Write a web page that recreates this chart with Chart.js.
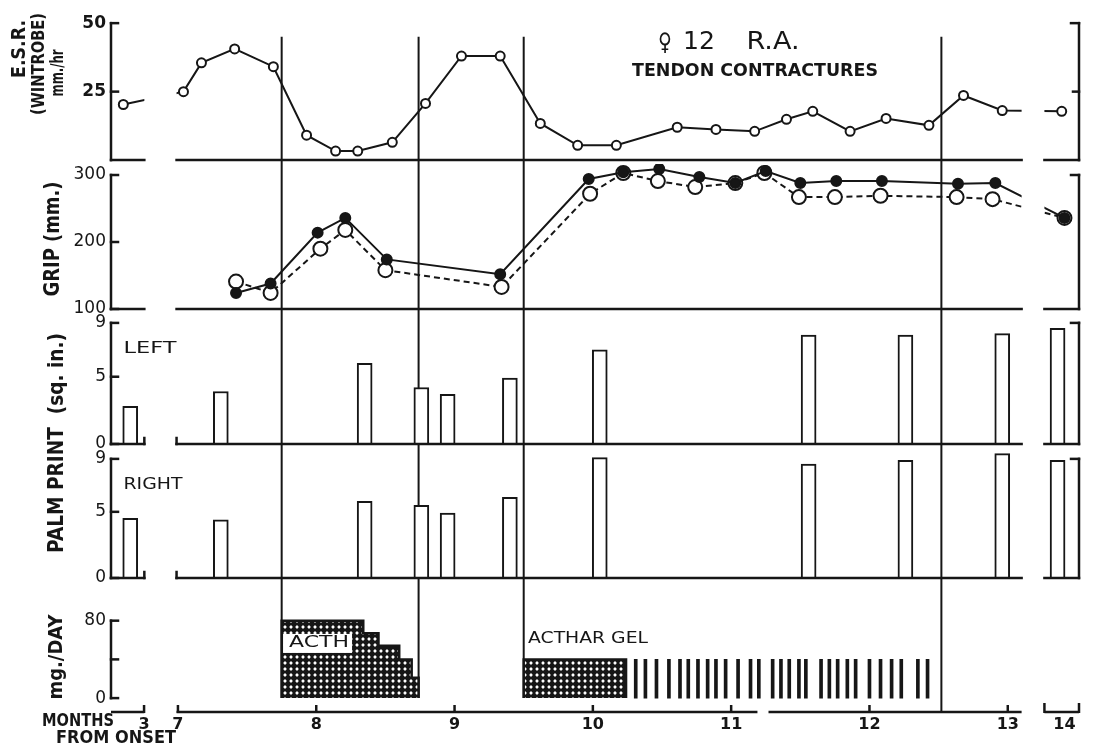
<!DOCTYPE html>
<html>
<head>
<meta charset="utf-8">
<title>Case 12 R.A. - ESR, grip, palm print and ACTH dosage</title>
<script src="https://cdn.jsdelivr.net/npm/chart.js@4.4.1/dist/chart.umd.min.js"></script>
<style>
  html, body { margin: 0; background: #fff; }
  canvas { display: block; }
</style>
</head>
<body>
<canvas id="chart" width="1093" height="748"></canvas>
<script>
// ---- values (months from onset) ----
const monthTicks = [3, 7, 8, 9, 10, 11, 12, 13, 14];

const esrMonths = [2.85, 7.04, 7.17, 7.41, 7.69, 7.93, 8.14, 8.30, 8.55, 8.79, 9.05, 9.33, 9.62,
  9.89, 10.17, 10.61, 10.89, 11.17, 11.40, 11.59, 11.86, 12.12, 12.43, 12.68, 12.96, 13.98];
const esrValues = [20.3, 25, 35.5, 40.6, 34.1, 9.1, 3.3, 3.3, 6.5, 20.7, 38, 38, 13.4,
  5.4, 5.4, 12, 11.2, 10.5, 14.9, 17.8, 10.5, 15.2, 12.7, 23.6, 18.1, 17.8];

const gripSolidMonths = [7.42, 7.67, 8.01, 8.21, 8.51, 9.33, 9.97, 10.22, 10.48, 10.77, 11.03,
  11.25, 11.50, 11.76, 12.09, 12.64, 12.91, 14.0];
const gripSolid = [124, 138, 214, 236, 174, 152, 294, 304, 309, 297, 288, 306, 288, 291, 291, 287, 288, 236];
const gripOpenMonths = [7.42, 7.67, 8.03, 8.21, 8.50, 9.34, 9.98, 10.22, 10.47, 10.74, 11.03,
  11.24, 11.49, 11.75, 12.08, 12.63, 12.89, 14.0];
const gripOpen = [141, 124, 190, 218, 158, 133, 272, 303, 291, 282, 288, 303, 267, 267, 269, 267, 264, 236];

const palmMonths = [2.9, 7.31, 8.35, 8.76, 8.95, 9.40, 10.05, 11.56, 12.26, 12.96, 13.95];
const palmLeft = [2.8, 3.9, 6.0, 4.2, 3.7, 4.9, 7.0, 8.1, 8.1, 8.2, 8.6];
const palmRight = [4.5, 4.4, 5.8, 5.5, 4.9, 6.1, 9.1, 8.6, 8.9, 9.4, 8.9];

const acthStart = [7.75, 8.34, 8.45, 8.60, 8.69];
const acthDose = [80, 67, 54, 40, 21];
const acthEnd = 8.74;
const gelStart = 9.5, gelEnd = 10.24, gelDose = 40;
const gelShots = [10.31, 10.38, 10.46, 10.55, 10.63, 10.69, 10.76, 10.83, 10.89, 10.96, 11.05,
  11.14, 11.20, 11.30, 11.36, 11.42, 11.49, 11.54, 11.65, 11.71, 11.77, 11.84, 11.90, 12.00,
  12.08, 12.16, 12.23, 12.35, 12.42];

const treatMonths = [7.75, 8.74, 9.5, 12.52];

// ---- broken month axis: month 3 and month 14 are pulled in next to the main span ----
const pos = m => m <= 5 ? m + 3.755 : (m >= 13.5 ? m - 0.59 : m);
const pts = (months, values) => months.map((m, i) => ({x: pos(m), y: values[i]}));
const breaks = [[6.757, 6.99], [13.10, 13.265]];
const pieces = xs => [[xs.min, breaks[0][0]], [breaks[0][1], breaks[1][0]], [breaks[1][1], xs.max]];
const axisGap = [11.19, 11.27]; // small gap in the printed month axis

const ink = '#161616';
Chart.defaults.font.family = '"DejaVu Sans", sans-serif';
Chart.defaults.color = ink;

function hatch() {
  const c = document.createElement('canvas');
  c.width = c.height = 6;
  const g = c.getContext('2d');
  g.fillStyle = ink;
  g.fillRect(0, 0, 6, 6);
  g.fillStyle = '#fff';
  g.beginPath();
  g.moveTo(3, 1.1); g.lineTo(4.9, 3); g.lineTo(3, 4.9); g.lineTo(1.1, 3);
  g.closePath();
  g.fill();
  return g.createPattern(c, 'repeat');
}

const acthData = [{x: pos(acthStart[0]), y: 0}]
  .concat(pts(acthStart, acthDose))
  .concat([{x: pos(acthEnd), y: acthDose[acthDose.length - 1]}, {x: pos(acthEnd), y: 0}]);
const gelData = [{x: pos(gelStart), y: 0}, {x: pos(gelStart), y: gelDose},
  {x: pos(gelEnd), y: gelDose}, {x: pos(gelEnd), y: 0}];

const panels = [
  {id: 'esr', base: 0, top: 50, bracket: true, rightTicks: [25]},
  {id: 'grip', base: 100, top: 300, bracket: true},
  {id: 'palmL', base: 0, top: 9, bracket: true, notches: true},
  {id: 'palmR', base: 0, top: 9, bracket: true, notches: true},
  {id: 'mg', base: 0, top: 80, bracket: false}
];

const notes = [
  {text: 'E.S.R.', x: 20, y: 49, len: 58, size: 19, bold: true, up: true},
  {text: '(WINTROBE)', x: 40, y: 64, len: 102, size: 17, bold: true, up: true},
  {text: 'mm./hr', x: 59, y: 73, len: 47, size: 17, bold: true, up: true},
  {text: 'GRIP (mm.)', x: 53, y: 239, len: 115, size: 22, bold: true, up: true},
  {text: 'PALM PRINT  (sq. in.)', x: 57, y: 443, len: 220, size: 22, bold: true, up: true},
  {text: 'mg./DAY', x: 57, y: 657, len: 85, size: 20, bold: true, up: true},
  {text: 'LEFT', x: 150, y: 349, len: 53, size: 15},
  {text: 'RIGHT', x: 153, y: 485, len: 59, size: 15},
  {text: '\u2640', x: 665, y: 44, len: 14, size: 24, bold: true},
  {text: '12', x: 699, y: 43, len: 32, size: 24},
  {text: 'R.A.', x: 773, y: 43, len: 53, size: 24},
  {text: 'TENDON CONTRACTURES', x: 755, y: 72, len: 246, size: 17, bold: true},
  {text: 'ACTHAR GEL', x: 588, y: 639, len: 120, size: 16},
  {text: 'MONTHS', x: 78, y: 722, len: 72, size: 17, bold: true},
  {text: 'FROM ONSET', x: 116, y: 739, len: 120, size: 17, bold: true}
];

function line(ctx, x1, y1, x2, y2) {
  ctx.beginPath(); ctx.moveTo(x1, y1); ctx.lineTo(x2, y2); ctx.stroke();
}

function fitText(ctx, n) {
  ctx.save();
  ctx.font = (n.bold ? 'bold ' : '') + n.size + 'px "DejaVu Sans"';
  const w = ctx.measureText(n.text).width;
  ctx.translate(n.x, n.y);
  if (n.up) ctx.rotate(-Math.PI / 2);
  ctx.scale(n.len / w, 1);
  ctx.textAlign = 'center';
  ctx.textBaseline = 'middle';
  ctx.fillStyle = ink;
  ctx.fillText(n.text, 0, 0);
  ctx.restore();
}

const frame = {
  id: 'frame',
  beforeDatasetsDraw(chart) {
    const {ctx, chartArea: a, scales} = chart;
    const px = v => scales.x.getPixelForValue(v);
    ctx.save();
    ctx.strokeStyle = ink;
    ctx.lineWidth = 2;
    const yTop = scales.esr.getPixelForValue(45);
    treatMonths.forEach((m, i) => {
      const yEnd = i === treatMonths.length - 1 ? a.bottom : scales.mg.getPixelForValue(0);
      line(ctx, px(pos(m)), yTop, px(pos(m)), yEnd);
    });
    ctx.restore();
    // hide the data lines inside the axis breaks
    ctx.save();
    ctx.beginPath();
    pieces(scales.x).forEach(([s0, s1]) => ctx.rect(px(s0), a.top, px(s1) - px(s0), a.bottom - a.top));
    ctx.clip();
  },
  afterDatasetsDraw(chart) {
    const {ctx, chartArea: a, scales} = chart;
    ctx.restore();
    const xs = scales.x, px = v => xs.getPixelForValue(v);
    ctx.save();
    ctx.strokeStyle = ink;
    ctx.lineWidth = 2.5;
    ctx.lineCap = 'square';
    panels.forEach(p => {
      const s = scales[p.id];
      const yb = s.getPixelForValue(p.base), yt = s.getPixelForValue(p.top);
      line(ctx, a.left, yt, a.left, yb);
      s.ticks.forEach(t => { const y = s.getPixelForValue(t.value); line(ctx, a.left, y, a.left + 7, y); });
      if (p.bracket) {
        line(ctx, a.right, yt, a.right, yb);
        line(ctx, a.right - 8, yt, a.right, yt);
        (p.rightTicks || []).forEach(v => { const y = s.getPixelForValue(v); line(ctx, a.right - 6, y, a.right, y); });
        pieces(xs).forEach(([s0, s1]) => line(ctx, px(s0), yb, px(s1), yb));
        if (p.notches) breaks[0].forEach(v => line(ctx, px(v), yb, px(v), yb - 6));
      }
    });
    // month axis
    const yb = a.bottom;
    const segs = pieces(xs);
    segs.splice(1, 1, [segs[1][0], axisGap[0]], [axisGap[1], segs[1][1]]);
    ctx.lineCap = 'butt';
    segs.forEach(([s0, s1]) => line(ctx, px(s0), yb, px(s1), yb));
    xs.ticks.forEach((t, i) => { if (monthTicks[i] !== 14) line(ctx, px(t.value), yb + 1, px(t.value), yb - 7); });
    [breaks[1][1], xs.max].forEach(v => line(ctx, px(v), yb + 1, px(v), yb - 9));
    ctx.restore();

    // ACTH label cut out of the hatched block
    const lx = px(pos(7.76)), ly = scales.mg.getPixelForValue(57);
    ctx.save();
    ctx.fillStyle = '#fff';
    ctx.fillRect(lx, ly - 9, 69, 19);
    ctx.restore();
    fitText(ctx, {text: 'ACTH', x: lx + 36, y: ly, len: 60, size: 16});
    notes.forEach(n => fitText(ctx, n));
  }
};

const yAxis = (min, max, ticks, weight, order, extra) => Object.assign({
  type: 'linear', position: 'left', stack: 'panels', stackWeight: weight, weight: order,
  min, max,
  grid: {display: false, drawTicks: false},
  border: {display: false},
  afterBuildTicks: s => { s.ticks = ticks.map(v => ({value: v})); },
  afterFit: s => { s.width = 111; },
  ticks: {padding: 5, font: {size: 17}}
}, extra || {});

new Chart(document.getElementById('chart'), {
  type: 'line',
  data: {
    datasets: [
      {label: 'Grip (solid)', data: pts(gripSolidMonths, gripSolid), yAxisID: 'grip',
        borderColor: ink, borderWidth: 2, pointRadius: 5, pointBackgroundColor: ink, pointBorderColor: ink},
      {label: 'Grip (open)', data: pts(gripOpenMonths, gripOpen), yAxisID: 'grip',
        borderColor: ink, borderWidth: 2, borderDash: [6, 4], pointRadius: 7,
        pointBackgroundColor: '#fff', pointBorderColor: ink, pointBorderWidth: 2},
      {label: 'E.S.R.', data: pts(esrMonths, esrValues), yAxisID: 'esr',
        borderColor: ink, borderWidth: 2, pointRadius: 4.5,
        pointBackgroundColor: '#fff', pointBorderColor: ink, pointBorderWidth: 2},
      {type: 'bar', label: 'Palm print left', data: pts(palmMonths, palmLeft), yAxisID: 'palmL',
        grouped: false, barThickness: 15, backgroundColor: '#fff', borderColor: ink, borderWidth: 2},
      {type: 'bar', label: 'Palm print right', data: pts(palmMonths, palmRight), yAxisID: 'palmR',
        grouped: false, barThickness: 15, backgroundColor: '#fff', borderColor: ink, borderWidth: 2},
      {type: 'bar', label: 'Acthar gel injections', data: gelShots.map(m => ({x: pos(m), y: gelDose})),
        yAxisID: 'mg', grouped: false, barThickness: 3, backgroundColor: ink, borderWidth: 0},
      {label: 'ACTH', data: acthData, yAxisID: 'mg', stepped: true, fill: 'origin',
        backgroundColor: hatch(), borderColor: ink, borderWidth: 2.5, pointRadius: 0},
      {label: 'Acthar gel', data: gelData, yAxisID: 'mg', fill: 'origin',
        backgroundColor: hatch(), borderColor: ink, borderWidth: 2.5, pointRadius: 0}
    ]
  },
  options: {
    responsive: false,
    animation: false,
    events: [],
    layout: {padding: {top: 10, right: 14, bottom: 0, left: 0}},
    elements: {line: {tension: 0}},
    plugins: {legend: {display: false}, tooltip: {enabled: false}},
    scales: {
      x: {
        type: 'linear', min: 6.516, max: 13.515, offset: false,
        grid: {display: false, drawTicks: false},
        border: {display: false},
        afterBuildTicks: s => { s.ticks = monthTicks.map(m => ({value: pos(m)})); },
        afterFit: s => { s.height = 36; },
        ticks: {autoSkip: false, maxRotation: 0, padding: 3, font: {size: 16, weight: 'bold'},
          callback: (v, i) => String(monthTicks[i])}
      },
      esr: yAxis(-1.45, 52.9, [25, 50], 150, 5, {ticks: {padding: 5, font: {size: 17, weight: 'bold'}}}),
      grip: yAxis(94.07, 316.3, [100, 200, 300], 150, 4),
      palmL: yAxis(-0.443, 9.738, [0, 5, 9], 138, 3),
      palmR: yAxis(-0.6, 9.675, [0, 5, 9], 137, 2),
      mg: yAxis(-14.36, 115.9, [0, 40, 80], 127, 1,
        {ticks: {padding: 5, font: {size: 17}, callback: v => v === 40 ? '' : String(v)}})
    }
  },
  plugins: [frame]
});
</script>
</body>
</html>
